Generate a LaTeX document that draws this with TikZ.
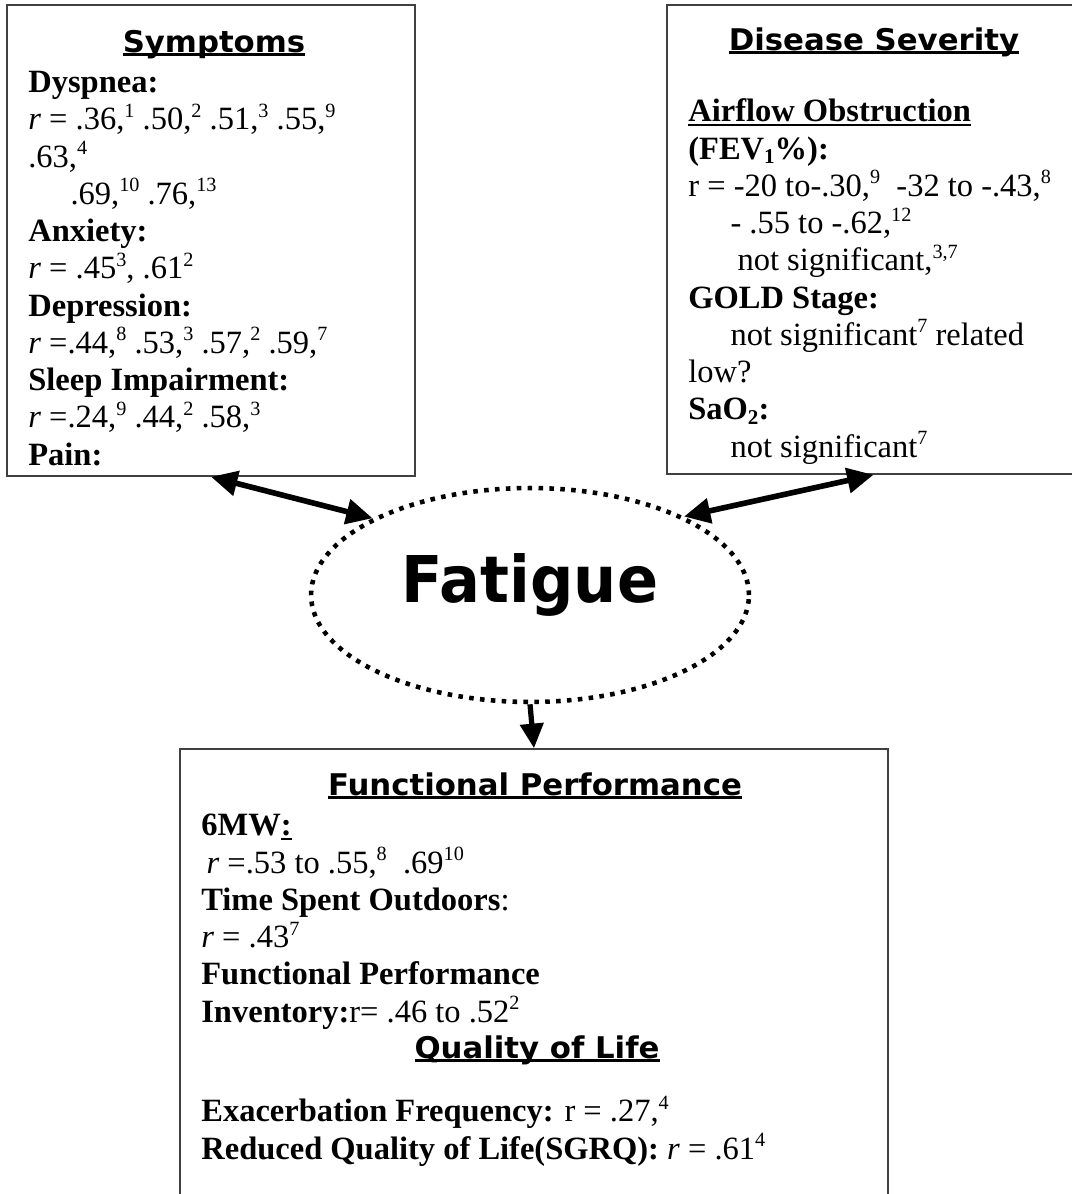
\documentclass[tikz,border=0pt]{standalone}
\usepackage{fontspec}
\usetikzlibrary{arrows.meta,positioning,shapes.geometric,fit}
\setmainfont{Liberation Serif}
\newfontfamily\headfont{DejaVu Sans Bold}[FakeStretch=1.03]
\newfontfamily\fatfont{DejaVu Sans Bold}[FakeStretch=0.94]
\newsavebox\ulbox
\newcommand\rs[1]{\raisebox{7pt}{\fontsize{11.5}{12}\selectfont #1}}
\newcommand\rsub[1]{\raisebox{-2.5pt}{\fontsize{12}{12}\selectfont #1}}
\newcommand\ri{\textit{r}}
\newcommand\headul[1]{\sbox\ulbox{#1}\rlap{\rule[-2.4pt]{\wd\ulbox}{1.8pt}}\usebox\ulbox}
\newcommand\bodyul[1]{\sbox\ulbox{#1}\rlap{\rule[-2.2pt]{\wd\ulbox}{1pt}}\usebox\ulbox}

\begin{document}
\begin{tikzpicture}[x=0.02cm,y=-0.02cm,
      panel/.style={draw=black!75,line width=0.9pt,inner sep=0pt},
      head/.style={font=\headfont\fontsize{17}{20}\selectfont,inner sep=0pt,anchor=base},
      body/.style={font=\fontsize{18.5}{21.2}\selectfont,align=left,inner sep=0pt,anchor=base west},
      ring/.style={ellipse,draw,line width=2.6pt,dash pattern=on 2.6pt off 3.6pt,
                   minimum width=8.76cm,minimum height=4.28cm,inner sep=0pt,
                   font=\fatfont\fontsize{36.7}{40}\selectfont,text depth=19pt},
      link/.style={line width=3.2pt,{Triangle[length=15pt,width=14pt]}-{Triangle[length=15pt,width=14pt]}},
      lead/.style={line width=3pt,-{Triangle[length=14pt,width=13pt]}}]
    \useasboundingbox (0,0) rectangle (1072,1194);
    \fill[white] (0,0) rectangle (1072,1194);
    \node[panel,fit={(7,5) (415,476)}] (sym) {};
    \node[panel,fit={(667,5) (1080,474)}] (sev) {};
    \node[panel,fit={(180,749) (888,1240)}] (fp) {};
    \node[ring] (fat) at (530,595) {Fatigue};
    \node[head] (symhead) at (214,52) {\headul{Symptoms}};
    \node[head] (sevhead) at (874,50) {\headul{Disease Severity}};
    \node[head] (fphead) at (535,795) {\headul{Functional Performance}};
    \node[head] (qolhead) at (537,1058) {\headul{Quality of Life}};
    \node[body] (symtxt) at (28,465) {\textbf{Dyspnea:}\\
      \ri{} = .36,\rs{1} .50,\rs{2} .51,\rs{3} .55,\rs{9}\\
      .63,\rs{4}\\
      \hspace*{24pt}.69,\rs{10} .76,\rs{13}\\
      \textbf{Anxiety:}\\
      \ri{} = .45\rs{3}, .61\rs{2}\\
      \textbf{Depression:}\\
      \ri{} =.44,\rs{8} .53,\rs{3} .57,\rs{2} .59,\rs{7}\\
      \textbf{Sleep Impairment:}\\
      \ri{} =.24,\rs{9} .44,\rs{2} .58,\rs{3}\\
      \textbf{Pain:}};
    \node[body] (sevtxt) at (688,457) {\bodyul{\textbf{Airflow Obstruction}}\\
      \textbf{(FEV\rsub{\bfseries 1}\%):}\\
      r = -20 to-.30,\rs{9}\ \ -32 to -.43,\rs{8}\\
      \hspace*{24pt}- .55 to -.62,\rs{12}\\
      \hspace*{28pt}not significant,\rs{3,7}\\
      \textbf{GOLD Stage:}\\
      \hspace*{24pt}not significant\rs{7} related\\
      low?\\
      \textbf{SaO\rsub{2}:}\\
      \hspace*{24pt}not significant\rs{7}};
    \node[body] (fptxt) at (201,1022) {\textbf{6MW}\bodyul{\textbf{:}}\\
      \hspace*{3pt}\ri{} =.53 to .55,\rs{8}\ \ .69\rs{10}\\
      \textbf{Time Spent Outdoors}:\\
      \ri{} = .43\rs{7}\\
      \textbf{Functional Performance}\\
      \textbf{Inventory:}r= .46 to .52\rs{2}};
    \node[body] (qoltxt) at (201,1159) {\textbf{Exacerbation Frequency:} r = .27,\rs{4}\\
      \textbf{Reduced Quality of Life(SGRQ):} \ri{} = .61\rs{4}};
    \draw[link] (sym.south) -- (fat.154);
    \draw[link] (sev.south) -- (fat.27);
    \draw[lead] (fat.south) -- (fp.north);
  \end{tikzpicture}
\end{document}
